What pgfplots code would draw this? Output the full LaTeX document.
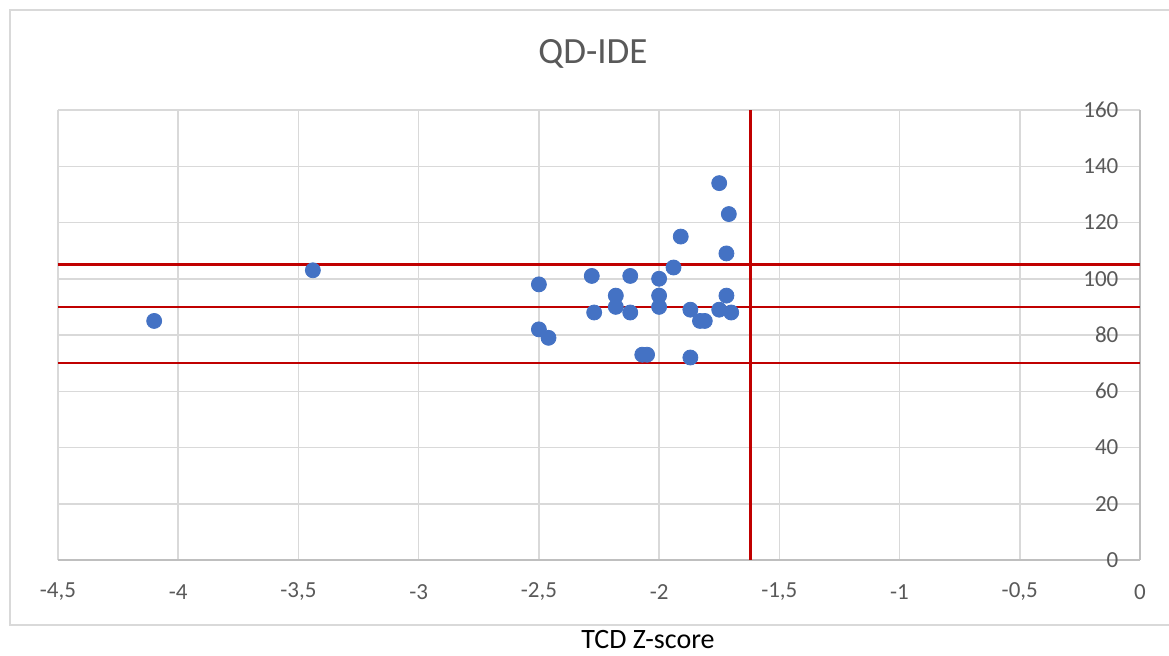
\documentclass[border=0pt]{standalone}
\usepackage{fontspec}
\setmainfont{Carlito}
\usepackage{pgfplots}
\pgfplotsset{compat=1.18}
\definecolor{excelblue}{HTML}{4472C4}
\definecolor{excelred}{HTML}{C00000}
\definecolor{gridgray}{HTML}{D9D9D9}
\definecolor{axisgray}{HTML}{BFBFBF}
\definecolor{textgray}{HTML}{595959}
\begin{document}
\begin{tikzpicture}[x=0.5pt,y=0.5pt]
\useasboundingbox[fill=white] (0,0) rectangle (1169,655);
\draw[gridgray, line width=0.9pt] (10,30) rectangle (1180,645);
\node[text=textgray, font=\fontsize{18.5}{21}\selectfont] at (593,601) {QD-IDE};
\node[text=black, font=\fontsize{14}{16}\selectfont] at (648,15) {TCD Z-score};
\begin{axis}[
  at={(29pt,47.5pt)}, anchor=south west,
  scale only axis, width=541pt, height=225pt,
  xmin=-4.5, xmax=0, ymin=0, ymax=160,
  xtick={-4.5,-4,-3.5,-3,-2.5,-2,-1.5,-1,-0.5,0},
  xticklabels={{-4,5},-4,{-3,5},-3,{-2,5},-2,{-1,5},-1,{-0,5},0},
  ytick={0,20,40,60,80,100,120,140,160},
  yticklabels={0,20,40,60,80,100,120,140,160},
  axis x line*=bottom, axis y line*=right,
  axis line style={axisgray, line width=0.8pt, -},
  major tick length=0pt,
  grid=major,
  major grid style={gridgray, line width=0.75pt},
  xticklabel style={anchor=center, yshift=-16pt, text=textgray, font=\fontsize{11.5}{13}\selectfont},
  yticklabel style={anchor=east, xshift=-7.3pt, text=textgray, font=\fontsize{11.5}{13}\selectfont},
  clip=false,
]
\addplot[excelred, line width=1.25pt] coordinates {(-4.5,105) (0,105)};
\addplot[excelred, line width=1.25pt] coordinates {(-4.5,90) (0,90)};
\addplot[excelred, line width=1.25pt] coordinates {(-4.5,70) (0,70)};
\addplot[excelred, line width=1.25pt] coordinates {(-1.62,0) (-1.62,160)};
\addplot[only marks, mark=*, mark size=3.75pt, mark options={fill=excelblue, draw=excelblue}] coordinates {
(-4.10,85) (-3.44,103)
(-1.75,134) (-1.71,123) (-1.91,115) (-1.72,109) (-1.94,104)
(-2.50,98) (-2.28,101) (-2.12,101) (-2.00,100)
(-2.18,94) (-2.00,94) (-1.72,94)
(-2.18,90) (-2.00,90)
(-2.27,88) (-2.12,88) (-1.87,89) (-1.75,89) (-1.70,88)
(-1.83,85) (-1.81,85)
(-2.50,82) (-2.46,79)
(-2.07,73) (-2.05,73) (-1.87,72)
};
\end{axis}
\end{tikzpicture}
\end{document}
